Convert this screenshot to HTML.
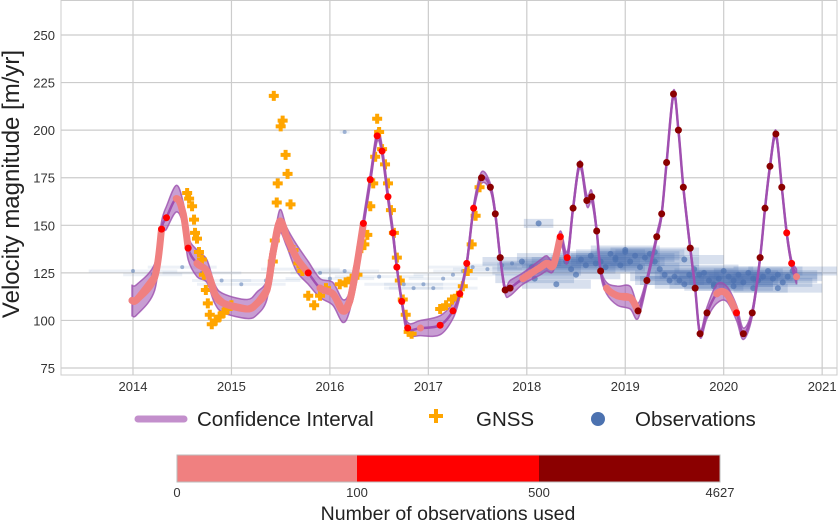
<!DOCTYPE html>
<html><head><meta charset="utf-8"><style>
body{margin:0;background:#fff;font-family:"Liberation Sans",sans-serif}
svg text{font-family:"Liberation Sans",sans-serif}
</style></head><body>
<svg id="c" width="840" height="521" xmlns="http://www.w3.org/2000/svg">
<rect x="61" y="0.5" width="776" height="374.5" fill="#fff" stroke="#ccc"/>
<g id="grid"></g><g id="obs"></g><g id="band"></g><g id="gnss"></g><g id="vel"></g><g id="axes"></g>
<text x="0" y="0" transform="translate(19,184) rotate(-90)" text-anchor="middle" font-size="24" fill="#222">Velocity magnitude [m/yr]</text>
<g>
<g><line x1="138" y1="419" x2="184" y2="419" stroke="#c38fcc" stroke-width="7" stroke-linecap="round"/><text x="197" y="426" font-size="20.5" fill="#222">Confidence Interval</text></g>
<g><path d="M431,413h5v-5h4v5h5v4h-5v5h-4v-5h-5z" fill="#ffa500" transform="translate(-2,1)"/><text x="476" y="426" font-size="20.5" fill="#222">GNSS</text></g>
<g><circle cx="598" cy="419" r="7" fill="#4c72b0"/><text x="635" y="426" font-size="20.5" fill="#222">Observations</text></g>
</g>
<g>
<rect x="177" y="455" width="180" height="27" fill="#f08080"/>
<rect x="357" y="455" width="182" height="27" fill="#ff0000"/>
<rect x="539" y="455" width="181" height="27" fill="#8b0000"/>
<rect x="177" y="455" width="543" height="27" fill="none" stroke="#bbb"/>
<text x="177" y="497" font-size="13" text-anchor="middle" fill="#333">0</text>
<text x="357" y="497" font-size="13" text-anchor="middle" fill="#333">100</text>
<text x="539" y="497" font-size="13" text-anchor="middle" fill="#333">500</text>
<text x="720" y="497" font-size="13" text-anchor="middle" fill="#333">4627</text>
<text x="448" y="520" font-size="19.5" text-anchor="middle" fill="#222">Number of observations used</text>
</g>
</svg>
<script>
const xTicks=[2014,2015,2016,2017,2018,2019,2020,2021];
const yTicks=[75,100,125,150,175,200,225,250];
const velT=[2013.99,2014.04,2014.22,2014.29,2014.34,2014.44,2014.51,2014.56,2014.65,2014.75,2014.83,2014.92,2015.16,2015.26,2015.36,2015.42,2015.49,2015.56,2015.66,2015.78,2015.9,2016.03,2016.13,2016.2,2016.27,2016.34,2016.41,2016.48,2016.53,2016.59,2016.64,2016.68,2016.73,2016.79,2016.92,2017.12,2017.25,2017.32,2017.39,2017.46,2017.54,2017.63,2017.68,2017.73,2017.78,2017.83,2017.96,2018.14,2018.2,2018.27,2018.34,2018.41,2018.47,2018.54,2018.61,2018.66,2018.71,2018.75,2018.81,2018.92,2019.05,2019.13,2019.22,2019.32,2019.37,2019.42,2019.49,2019.54,2019.59,2019.66,2019.71,2019.76,2019.83,2019.93,2020.03,2020.13,2020.2,2020.29,2020.37,2020.42,2020.47,2020.53,2020.59,2020.64,2020.69,2020.74];
const velV=[110.5,111,122.8,148,154,164,156,138,130,126,114,109,106,109,116,135,152,144,133,125,117,114,105,110,128,151,174,197,189,165,146,128,110,96,96,97.5,105,114,130,159,175,170,156,133,116,117,122,128,130,129,144,133,159,182,163,165,147,126,117,113,112,105,121,144,156,183,219,200,170,138,117,93,104,114,114,104,93,104,133,159,181,198,170,146,130,123];
const velErr=[8,8,7,4,6,7,6,6,7,6,5,5,5,6,5,3,6,5,7,6,5,6,6,5,3,3,3,3,3,3,3,2,2,3,4,5,4,2,2,2,3,2,2,2,2,4,3,4,4,3,3,3,2,2,3,3,2,2,3,5,6,4,2,2,2,2,2,2,2,2,2,2,3,5,4,4,3,2,2,2,2,2,2,2,2,4];
const velN=[50,50,50,150,150,50,50,150,50,50,50,50,50,50,50,50,50,50,50,150,50,50,50,50,50,150,150,150,150,150,150,150,150,150,50,150,150,150,150,150,600,600,600,600,600,600,50,50,50,50,150,150,600,600,600,600,600,600,50,50,50,600,600,600,600,600,600,600,600,600,600,600,600,50,50,150,600,600,600,600,600,600,600,150,150,50];
const gnssT=[2014.55,2014.57,2014.6,2014.62,2014.63,2014.65,2014.67,2014.7,2014.72,2014.74,2014.76,2014.78,2014.8,2014.84,2014.88,2014.92,2014.96,2015.0,2015.42,2015.44,2015.46,2015.47,2015.5,2015.52,2015.43,2015.55,2015.57,2015.6,2015.63,2015.68,2015.72,2015.78,2015.84,2015.9,2015.96,2016.1,2016.16,2016.22,2016.28,2016.32,2016.35,2016.38,2016.41,2016.44,2016.46,2016.48,2016.5,2016.53,2016.56,2016.59,2016.62,2016.65,2016.68,2016.71,2016.74,2016.77,2016.8,2016.83,2017.12,2017.18,2017.24,2017.3,2017.35,2017.4,2017.44,2017.48,2017.52];
const gnssV=[167,164,160,153,146,143,136,132,124,116,109,103,98,100,102,104,106,108,131,142,162,172,202,205,218,187,177,161,137,130,126,113,108,113,117,119,120,122,124,138,140,145,160,172,186,206,199,190,182,172,158,146,133,121,111,103,94,93,106,108,111,113,118,126,140,155,170];
const obsT=[2014.0,2014.2,2014.5,2014.7,2014.9,2015.1,2015.35,2015.7,2015.9,2016.0,2016.15,2016.5,2016.75,2016.85,2016.95,2017.05,2017.15,2017.25,2017.35,2017.45,2017.6,2017.75,2017.85,2017.95,2018.05,2018.1,2018.15,2018.25,2018.3,2018.4,2018.45,2018.55,2018.6,2018.65,2018.7,2018.75,2018.8,2018.85,2018.9,2018.95,2019.0,2019.05,2019.1,2019.15,2019.2,2019.25,2019.3,2019.35,2019.4,2019.45,2019.5,2019.55,2019.6,2019.65,2019.7,2019.75,2019.8,2019.85,2019.9,2019.95,2020.0,2020.05,2020.1,2020.15,2020.2,2020.25,2020.3,2020.35,2020.4,2020.45,2020.5,2020.55,2020.6,2020.65,2020.7,2018.08,2018.3,2018.5,2018.9,2019.0,2019.3,2019.6,2019.9,2020.1,2020.3,2020.55,2016.15,2018.12];
const obsV=[126,124,128,125,121,119,121,127,125,122,126,123,119,117,119,117,122,124,126,128,127,129,130,131,128,126,129,130,133,131,127,132,129,134,130,131,128,135,133,129,136,131,134,128,133,135,131,127,124,121,123,121,119,124,127,124,125,121,119,122,126,123,121,124,120,125,122,121,123,126,122,124,120,123,126,122,119,124,132,137,136,132,118,118,117,117,199,151];
const obsSpan=[0.9,0.6,0.7,0.8,0.6,0.9,0.7,0.8,0.6,0.9,0.7,0.9,0.8,0.6,0.8,0.9,0.7,0.8,0.6,0.9,0.7,0.8,0.6,0.8,0.7,0.9,0.8,0.6,0.8,0.7,0.9,0.6,0.8,0.7,0.9,0.6,0.8,0.7,0.9,0.8,0.6,0.7,0.9,0.8,0.6,0.7,0.9,0.8,0.6,0.7,0.9,0.8,0.6,0.7,0.9,0.8,0.6,0.7,0.9,0.8,0.6,0.7,0.9,0.8,0.6,0.7,0.9,0.8,0.6,0.7,0.9,0.8,0.6,0.7,0.9,0.8,0.7,0.9,0.8,0.7,0.9,0.8,0.6,0.8,0.7,0.9,0.1,0.3];
const X=t=>133+(t-2014)*98.45;
const Y=v=>35+(250-v)*1.903;
const NS='http://www.w3.org/2000/svg';
function mk(p,tag,at){const e=document.createElementNS(NS,tag);for(const k in at)e.setAttribute(k,at[k]);p.appendChild(e);return e;}
const grid=document.getElementById('grid'),axes=document.getElementById('axes');
xTicks.forEach(t=>{const l=mk(grid,'line',{x1:X(t),x2:X(t),y1:1,y2:375,stroke:'#ccc','stroke-width':1.2});


const tx=mk(axes,'text',{x:X(t),y:391,'font-size':13,'text-anchor':'middle',fill:'#333'});tx.textContent=t;

});
yTicks.forEach(v=>{const l=mk(grid,'line',{x1:61,x2:837,y1:Y(v),y2:Y(v),stroke:'#ccc','stroke-width':1.2});


const tx=mk(axes,'text',{x:55,y:Y(v)+5,'font-size':13,'text-anchor':'end',fill:'#333'});tx.textContent=v;

});
const og=document.getElementById('obs');
obsT.forEach((t,i)=>{const dense=t>=2017.9;const l=mk(og,'line',{x1:X(t-obsSpan[i]/2),x2:X(t+obsSpan[i]/2),y1:Y(obsV[i]),y2:Y(obsV[i]),stroke:'#4c72b0','stroke-opacity':dense?0.22:0.1,'stroke-width':dense?9:3});


const c=mk(og,'circle',{cx:X(t),cy:Y(obsV[i]),r:dense?3:2,fill:'#4c72b0','fill-opacity':dense?0.7:0.5});

});
function smooth(pts){let d='M'+pts[0][0]+','+pts[0][1];for(let i=0;i<pts.length-1;i++){const p0=pts[i-1]||pts[i],p1=pts[i],p2=pts[i+1],p3=pts[i+2]||p2;
d+=' C'+(p1[0]+(p2[0]-p0[0])/6)+','+(p1[1]+(p2[1]-p0[1])/6)+' '+(p2[0]-(p3[0]-p1[0])/6)+','+(p2[1]-(p3[1]-p1[1])/6)+' '+p2[0]+','+p2[1];}return d;}
const up=velT.map((t,i)=>[X(t),Y(velV[i]+velErr[i])]),lo=velT.map((t,i)=>[X(t),Y(velV[i]-velErr[i])]).reverse();
const bd=smooth(up)+' L'+smooth(lo).slice(1)+'Z';
const band=mk(document.getElementById('band'),'path',{d:bd,fill:'#9b4fae','fill-opacity':0.55,stroke:'#9b4fae','stroke-width':1.5,'stroke-opacity':0.8});


const gg=document.getElementById('gnss');
gnssT.forEach((t,i)=>{const x=X(t),y=Y(gnssV[i]);const p=mk(gg,'path',{d:`M${x-5},${y-2}h3v-3h4v3h3v4h-3v3h-4v-3h-3z`,fill:'#ffa500'});

});
const vg=document.getElementById('vel');
const col=n=>n<100?'#f08080':n<500?'#ff0000':'#8b0000';
const pts=velT.map((t,i)=>[X(t),Y(velV[i])]);
const ln=mk(vg,'path',{d:smooth(pts),fill:'none',stroke:'#a04fb0','stroke-width':2.5});


for(let i=0;i<pts.length-1;i++){if(velN[i]<100&&velN[i+1]<100){const s=mk(vg,'path',{d:smooth([pts[i-1]||pts[i],pts[i],pts[i+1],pts[i+2]||pts[i+1]]).replace(/^M[^C]*C[^C]*C/,'M'+pts[i][0]+','+pts[i][1]+' C'),fill:'none',stroke:'#f08080','stroke-width':7,'stroke-linecap':'round'});

}}
pts.forEach((p,i)=>{const c=mk(vg,'circle',{cx:p[0],cy:p[1],r:3.5,fill:col(velN[i])});

});
</script>
</body></html>
